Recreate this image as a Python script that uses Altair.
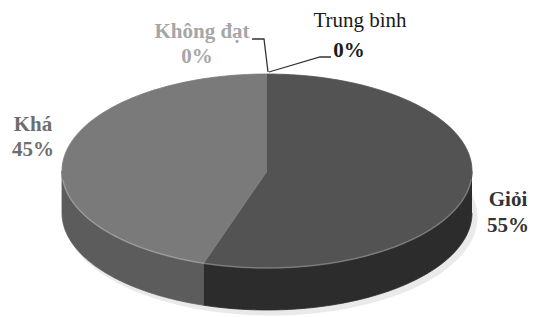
import altair as alt
import pandas as pd
import numpy as np

# ---- data ----
categories = ["Giỏi", "Khá", "Trung bình", "Không đạt"]
percents = [55, 45, 0, 0]
top_colors = ["#535353", "#7a7a7a", "#999999", "#aaaaaa"]
side_colors = ["#2c2c2c", "#5c5c5c", "#777777", "#888888"]

# ---- layout of the 3D pie (page pixels) ----
CX, CY, RX, RY, DEPTH = 267, 171, 205, 97, 42
W, H = 525, 301
FONT = "'Times New Roman', 'Liberation Serif', Tinos, 'DejaVu Serif'"


def pt(t_deg, dy=0.0):
    t = np.radians(t_deg)
    return CX + RX * np.sin(t), CY - RY * np.cos(t) + dy


rows = []
start = 0.0
for cat, pct, tc, sc in zip(categories, percents, top_colors, side_colors):
    span = pct / 100 * 360
    a, b = start, start + span
    start = b
    if span <= 0:
        continue
    k = 0
    rows.append(dict(kind="top", cat=cat, o=k, x=CX, y=CY)); k += 1
    for t in np.linspace(a, b, 120):
        x, y = pt(t)
        rows.append(dict(kind="top", cat=cat, o=k, x=x, y=y)); k += 1
    s, e = max(a, 90), min(b, 270)
    if e > s:
        k = 0
        for t in np.linspace(s, e, 100):
            x, y = pt(t)
            rows.append(dict(kind="side", cat=cat, o=k, x=x, y=y)); k += 1
        for t in np.linspace(e, s, 100):
            x, y = pt(t, DEPTH)
            rows.append(dict(kind="side", cat=cat, o=k, x=x, y=y)); k += 1

df = pd.DataFrame(rows)

shadow_rows = []
for i, t in enumerate(np.linspace(0, 360, 200)):
    x, y = pt(t, DEPTH + 4)
    shadow_rows.append(dict(o=i, x=x + 4, y=y))
shadow = pd.DataFrame(shadow_rows)

xs = alt.Scale(domain=[8, 8 + W], nice=False, zero=False)
ys = alt.Scale(domain=[8, 8 + H], nice=False, zero=False, reverse=True)
X = lambda f="x": alt.X(f"{f}:Q", scale=xs, axis=None)
Y = lambda f="y": alt.Y(f"{f}:Q", scale=ys, axis=None)

layers = [
    alt.Chart(shadow).mark_line(fill="#e6e6e6", stroke="#e6e6e6", strokeWidth=3, opacity=0.8)
    .encode(x=X(), y=Y(), order="o:Q")
]
for cat, tc, sc in zip(categories, top_colors, side_colors):
    for kind, col in (("side", sc), ("top", tc)):
        sub = df[(df.cat == cat) & (df.kind == kind)]
        if len(sub) == 0:
            continue
        layers.append(
            alt.Chart(sub).mark_line(fill=col, stroke=col, strokeWidth=0.8)
            .encode(x=X(), y=Y(), order="o:Q")
        )

rim = pd.DataFrame([dict(o=i, x=pt(t)[0], y=pt(t)[1]) for i, t in enumerate(np.linspace(95, 265, 150))])
layers.append(
    alt.Chart(rim).mark_line(stroke="#ffffff", strokeWidth=1.5, opacity=0.25)
    .encode(x=X(), y=Y(), order="o:Q")
)

# ---- labels ----
label_names = ["Trung bình", "0%", "Không đạt", "0%", "Khá", "45%", "Giỏi", "55%"]
label_x = [360, 349, 202, 197, 33, 33, 508, 508]
label_y = [21, 51, 32, 57, 125, 150, 200, 226]
label_color = ["#1a1a1a", "#1a1a1a", "#a6a6a6", "#a6a6a6", "#6e6e6e", "#6e6e6e", "#333333", "#333333"]
label_bold = ["normal", "bold", "bold", "bold", "bold", "bold", "bold", "bold"]
labels = pd.DataFrame(dict(t=label_names, x=label_x, y=label_y, c=label_color, w=label_bold))
for w in ("normal", "bold"):
    layers.append(
        alt.Chart(labels[labels.w == w]).mark_text(font=FONT, fontSize=21, fontWeight=w, baseline="middle")
        .encode(x=X(), y=Y(), text="t:N", color=alt.Color("c:N", scale=None))
    )

lead_id = ["a", "a", "a", "b", "b", "b"]
lead_o = [0, 1, 2, 0, 1, 2]
lead_x = [252, 264, 268, 269, 320, 331]
lead_y = [39, 39, 72, 72, 57, 57]
leaders = pd.DataFrame(dict(id=lead_id, o=lead_o, x=lead_x, y=lead_y))
layers.append(
    alt.Chart(leaders).mark_line(stroke="#333333", strokeWidth=1.3)
    .encode(x=X(), y=Y(), detail="id:N", order="o:Q")
)

chart = (
    alt.layer(*layers)
    .properties(width=W, height=H, padding=0)
    .configure(font=FONT)
    .configure_view(stroke=None)
)
chart.save("out.html", embed_options={"renderer": "svg", "actions": False})
